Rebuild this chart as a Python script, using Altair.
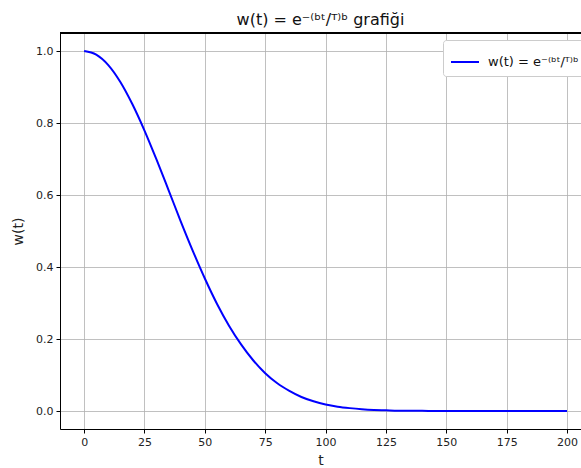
import altair as alt
import pandas as pd

# values
t_vals = [0, 5, 10, 15, 20, 25, 30, 35, 40, 45, 50, 55, 60, 65, 70, 75, 80, 85, 90, 95,
          100, 105, 110, 115, 120, 125, 130, 135, 140, 145, 150, 155, 160, 165, 170, 175,
          180, 185, 190, 195, 200]
w_vals = [1.0, 0.990, 0.961, 0.914, 0.852, 0.779, 0.698, 0.613, 0.527, 0.445, 0.368,
          0.298, 0.237, 0.185, 0.141, 0.105, 0.077, 0.056, 0.039, 0.027, 0.018, 0.012,
          0.008, 0.005, 0.003, 0.002, 0.001, 0.0007, 0.0004, 0.0002, 0.0001, 0.0, 0.0,
          0.0, 0.0, 0.0, 0.0, 0.0, 0.0, 0.0, 0.0]
series_name = "w(t) = e⁻⁽ᵇᵗ/ᵀ⁾ᵇ"
x_ticks = [0, 25, 50, 75, 100, 125, 150, 175, 200]
y_ticks = [0.0, 0.2, 0.4, 0.6, 0.8, 1.0]

df = pd.DataFrame({"t": t_vals, "w": w_vals, "series": [series_name] * len(t_vals)})

FONT = "DejaVu Sans"

line = alt.Chart(df).mark_line(strokeWidth=2, interpolate="monotone", clip=True).encode(
    x=alt.X("t:Q",
            scale=alt.Scale(domain=[-10, 205.8], nice=False, zero=False),
            axis=alt.Axis(values=x_ticks, title="t", format="d", grid=True,
                          gridColor="#b0b0b0", gridWidth=0.8,
                          domainColor="black", domainWidth=1,
                          tickColor="black", tickSize=4, tickWidth=1,
                          labelFontSize=11, labelColor="#222", labelPadding=3,
                          titleFontSize=14, titleFontWeight="normal", titleColor="#222",
                          titlePadding=6, labelFont=FONT, titleFont=FONT)),
    y=alt.Y("w:Q",
            scale=alt.Scale(domain=[-0.05, 1.05], nice=False, zero=False),
            axis=alt.Axis(values=y_ticks, title="w(t)", format=".1f", grid=True,
                          gridColor="#b0b0b0", gridWidth=0.8,
                          domainColor="black", domainWidth=1,
                          tickColor="black", tickSize=4, tickWidth=1,
                          labelFontSize=11, labelColor="#222", labelPadding=3,
                          titleFontSize=14, titleFontWeight="normal", titleColor="#222",
                          titlePadding=10, labelFont=FONT, titleFont=FONT)),
    color=alt.Color("series:N",
                    scale=alt.Scale(range=["#0000ff"]),
                    legend=alt.Legend(title=None, orient="none", legendX=383, legendY=7,
                                      symbolType="stroke", symbolStrokeWidth=2,
                                      symbolSize=784, labelFontSize=13, labelFont=FONT,
                                      labelColor="#111", labelOffset=8,
                                      fillColor="white", strokeColor="#cccccc",
                                      padding=7, cornerRadius=3)),
)

top_border = alt.Chart(df).mark_rule(color="black", strokeWidth=1).encode(
    x=alt.value(0), x2=alt.value(521), y=alt.value(0)
)

chart = alt.layer(line, top_border).properties(
    width=521, height=396,
    title=alt.TitleParams(text=series_name + " grafiği", fontSize=16, font=FONT,
                          fontWeight="normal", color="#111", anchor="middle", offset=5),
    padding={"left": 60, "top": 33, "right": 0, "bottom": 39},
    autosize=alt.AutoSizeParams(type="none"),
).configure_view(stroke=None).configure(background="white")

chart.save("out.html", embed_options={"renderer": "svg", "actions": False})
